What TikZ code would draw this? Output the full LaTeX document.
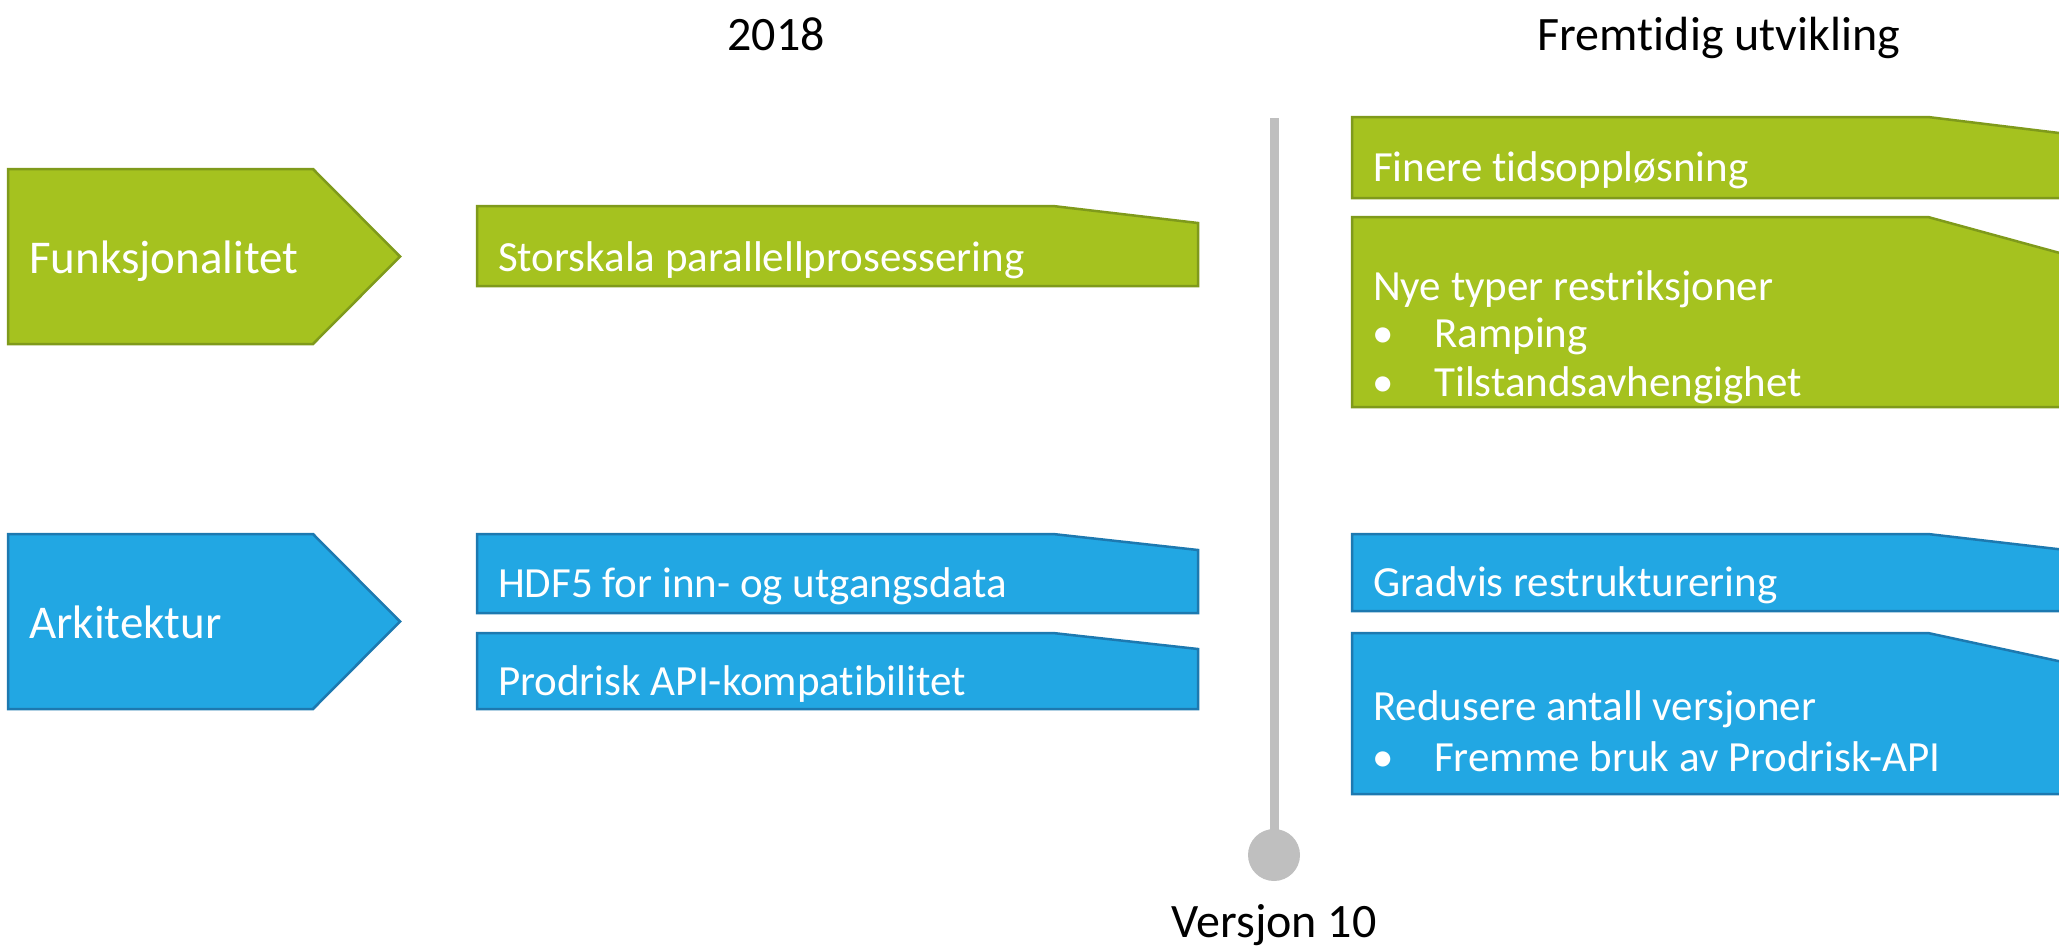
\documentclass[tikz,border=0pt]{standalone}
\usepackage{fontspec}
\setmainfont{Carlito}[Ligatures=NoCommon]
\definecolor{leafgreen}{HTML}{A5C21F}
\definecolor{leafedge}{HTML}{7F9A1B}
\definecolor{skyblue}{HTML}{22A7E3}
\definecolor{skyedge}{HTML}{1D79B0}
\definecolor{railgrey}{HTML}{BFBFBF}
\begin{document}
\begin{tikzpicture}[x=1pt,y=-1pt,
  greenshape/.style={fill=leafgreen,draw=leafedge,line width=2.5pt,line join=miter},
  blueshape/.style={fill=skyblue,draw=skyedge,line width=2.5pt,line join=miter},
  boxtext/.style={anchor=base west,inner sep=0pt,text=white,font=\fontsize{43}{51}\selectfont},
  headtext/.style={anchor=base west,inner sep=0pt,text=white,font=\fontsize{47}{56}\selectfont},
  titletext/.style={anchor=base,inner sep=0pt,text=black,font=\fontsize{48}{57}\selectfont}]
\useasboundingbox (0,0) rectangle (2059,948);
\clip (0,0) rectangle (2059,948);

% column titles
\node[titletext] (year) at (776,50) {2018};
\node[titletext] (future) at (1719,50) {Fremtidig utvikling};

% timeline with its end marker
\coordinate (railtop) at (1274,118);
\node[circle,fill=railgrey,minimum size=52pt,inner sep=0pt] (railend) at (1274,855) {};
\draw[railgrey,line width=9pt] (railtop) -- (railend.center);
\node[titletext] (release) at (1274,937) {Versjon 10};

% category arrows
\path[greenshape] (8,169) -- (313,169) -- (400,256.5) -- (313,344) -- (8,344) -- cycle;
\node[headtext] (func) at (29,273) {Funksjonalitet};
\path[blueshape] (8,534) -- (313,534) -- (400,621.5) -- (313,709) -- (8,709) -- cycle;
\node[headtext] (arch) at (29,638) {Arkitektur};

% 2018 items
\path[greenshape] (477,206) -- (1053,206) -- (1198,223) -- (1198,286) -- (477,286) -- cycle;
\node[boxtext] (par) at (498,271) {Storskala parallellprosessering};
\path[blueshape] (477,534) -- (1053,534) -- (1198,550) -- (1198,613) -- (477,613) -- cycle;
\node[boxtext] (hdf) at (498,597) {HDF5 for inn- og utgangsdata};
\path[blueshape] (477,633) -- (1053,633) -- (1198,649) -- (1198,709) -- (477,709) -- cycle;
\node[boxtext] (api) at (498,695) {Prodrisk API-kompatibilitet};

% future items (running past the right edge)
\path[greenshape] (1352,117) -- (1928,117) -- (2100,138) -- (2100,198) -- (1352,198) -- cycle;
\node[boxtext] (fine) at (1373,181) {Finere tidsoppløsning};
\path[greenshape] (1352,217) -- (1928,217) -- (2100,264) -- (2100,407) -- (1352,407) -- cycle;
\node[boxtext] (restr) at (1373,300) {Nye typer restriksjoner};
\node[boxtext] (b1) at (1372,347) {•};
\node[boxtext] (ramp) at (1434,347) {Ramping};
\node[boxtext] (b2) at (1372,396) {•};
\node[boxtext] (state) at (1434,396) {Tilstandsavhengighet};
\path[blueshape] (1352,534) -- (1928,534) -- (2100,554) -- (2100,611) -- (1352,611) -- cycle;
\node[boxtext] (restruct) at (1373,596) {Gradvis restrukturering};
\path[blueshape] (1352,633) -- (1928,633) -- (2100,670) -- (2100,794) -- (1352,794) -- cycle;
\node[boxtext] (fewer) at (1373,720) {Redusere antall versjoner};
\node[boxtext] (b3) at (1372,771) {•};
\node[boxtext] (promote) at (1434,771) {Fremme bruk av Prodrisk-API};
\end{tikzpicture}
\end{document}
